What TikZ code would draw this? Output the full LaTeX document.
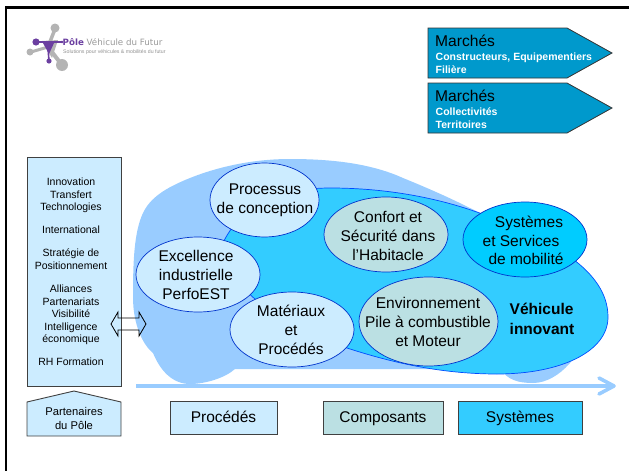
\documentclass[tikz,border=0pt]{standalone}
\usepackage{fontspec}
\usetikzlibrary{shapes.geometric}
\setmainfont{Liberation Sans}
\newfontfamily\logofont{DejaVu Sans}
\definecolor{carblue}{HTML}{99CCFF}
\definecolor{bigblue}{HTML}{33CCFF}
\definecolor{sysblue}{HTML}{00CCFF}
\definecolor{paleblue}{HTML}{CCECFF}
\definecolor{tealgrey}{HTML}{BBE0E3}
\definecolor{markblue}{HTML}{0099CC}
\definecolor{edgeblue}{HTML}{0033CC}
\definecolor{logopurple}{HTML}{6B3FA0}
\definecolor{logogrey}{HTML}{B4B4B4}
\tikzset{
  bubble/.style={ellipse,draw=edgeblue,line width=0.7pt,inner sep=0pt},
  bubbletext/.style={align=center,inner sep=0pt,font=\fontsize{15.5}{18.8}\selectfont},
  panel/.style={draw=black!75,line width=0.9pt},
  boxlabel/.style={rectangle,panel,minimum height=33pt,inner sep=0pt,text height=13pt,text depth=3pt,font=\fontsize{15.5}{18.8}\selectfont},
  markshape/.style={fill=markblue,draw=black!80,line width=0.8pt},
  marktitle/.style={anchor=west,inner sep=0pt,font=\fontsize{15.6}{18}\selectfont},
  marksub/.style={anchor=north west,align=left,inner sep=0pt,text=white,font=\fontsize{10.5}{13.5}\selectfont\bfseries}
}
\begin{document}
\begin{tikzpicture}[x=1pt,y=-1pt]
\useasboundingbox (0,0) rectangle (629,471);
% frame
\fill[black] (4.5,6) rectangle (7,471);
\fill[black] (4.5,6) rectangle (629,8.5);
% logo
\begin{scope}[line cap=round]
\draw[logogrey,line width=3.5pt] (48,47) -- (55,29);
\draw[logogrey,line width=4pt] (48,47) -- (62,65);
\draw[logogrey,line width=3pt] (48,47) -- (31,52);
\fill[logogrey] (55,28) circle (4.5);
\fill[logogrey] (62,65) circle (6);
\fill[logogrey] (30,52) circle (3.5);
\fill[logogrey] (42,41) -- (58,40) -- (52,58) -- cycle;
\draw[logopurple,line width=2pt] (36,42) -- (62,42);
\draw[logopurple,line width=1.6pt] (48,48) -- (49,61);
\fill[logopurple] (36,42) circle (3.6);
\fill[logopurple] (43,43) -- (54,43) -- (49,54) -- cycle;
\fill[logopurple] (49,61) circle (2.6);
\fill[logopurple] (62,42) circle (1.3);
\end{scope}
\node[anchor=west,inner sep=0pt,text=logogrey!85!black] (logoname) at (62.5,42.5) {\logofont\fontsize{8.7}{10}\selectfont\textcolor{logopurple}{\bfseries Pôle} Véhicule du Futur};
\node[anchor=west,inner sep=0pt,text=logogrey!80!black] (logotag) at (63,52.5) {\fontsize{5.2}{6}\selectfont Solutions pour véhicules \& mobilités du futur};
% markets
\draw[markshape] (428,28) -- (567,28) -- (612,53) -- (567,78) -- (428,78) -- cycle;
\node[marktitle] (m1) at (435,41) {Marchés};
\node[marksub] (m1s) at (435.5,52.5) {Constructeurs, Equipementiers\\Filière};
\draw[markshape] (428,83) -- (567,83) -- (612,108) -- (567,133) -- (428,133) -- cycle;
\node[marktitle] (m2) at (435,96) {Marchés};
\node[marksub] (m2s) at (435.5,107.5) {Collectivités\\Territoires};
% car
\fill[carblue] (133,297)
  .. controls (133,262) and (134,232) .. (143,213)
  .. controls (150,198) and (165,188) .. (190,178)
  .. controls (220,166) and (255,159) .. (290,159)
  .. controls (330,159) and (370,163) .. (403,178)
  .. controls (430,189) and (450,198) .. (470,208)
  .. controls (520,232) and (585,270) .. (585,330)
  .. controls (585,350) and (560,383) .. (533,383)
  .. controls (518,383) and (508,380) .. (500,369)
  -- (235,369)
  .. controls (225,378) and (205,384) .. (190,384)
  .. controls (172,384) and (160,370) .. (153,353)
  .. controls (143,345) and (133,325) .. (133,297) -- cycle;
% axis arrow
\draw[carblue,line width=3.6pt] (136,386) -- (613,386);
\draw[carblue,line width=3.6pt,line cap=round,line join=round] (599,378) -- (614,386) -- (599,394);
% vehicle blob
\fill[bigblue,draw=blue!70!cyan,line width=0.7pt] (222,245)
  .. controls (240,205) and (280,188) .. (330,188)
  .. controls (400,188) and (455,203) .. (490,217)
  .. controls (550,240) and (608,270) .. (608,317)
  .. controls (608,352) and (560,374) .. (497,374)
  .. controls (440,374) and (390,362) .. (347,348)
  .. controls (300,330) and (230,300) .. (222,245) -- cycle;
% bubbles
\node[bubble,fill=paleblue,minimum width=109pt,minimum height=74pt] (proc) at (264.5,200) {};
\node[bubble,fill=paleblue,minimum width=124pt,minimum height=75pt] (exc) at (198,274.5) {};
\node[bubble,fill=paleblue,minimum width=124pt,minimum height=75pt] (mat) at (292,329.5) {};
\node[bubble,fill=tealgrey,minimum width=124pt,minimum height=75pt] (conf) at (386,234.5) {};
\node[bubble,fill=tealgrey,minimum width=139pt,minimum height=89pt] (env) at (428.5,321.5) {};
\node[bubble,fill=sysblue,minimum width=124pt,minimum height=75pt] (sys) at (525,239.5) {};
\node[bubbletext] (proct) at (265,200.5) {Processus\\de conception};
\node[bubbletext] (exct) at (196,275) {Excellence\\industrielle\\PerfoEST};
\node[bubbletext] (matt) at (291,330) {Matériaux\\et\\Procédés};
\node[bubbletext] (conft) at (388,236) {Confort et\\Sécurité dans\\l’Habitacle};
\node[bubbletext] (envt) at (428,322) {Environnement\\Pile à combustible\\et Moteur};
\node[bubbletext] (syst) at (521,240.5) {\hspace*{16pt}Systèmes\\et Services\\\hspace*{10pt}de mobilité};
\node[align=left,inner sep=0pt,font=\fontsize{15.5}{19.6}\selectfont\bfseries] (veh) at (542,319) {Véhicule\\innovant};
% left panel
\node[rectangle,panel,fill=paleblue,minimum width=94pt,minimum height=229pt,inner sep=0pt,anchor=north west] (side) at (27,157) {};
\node[align=center,inner sep=0pt,font=\fontsize{10.5}{12.6}\selectfont] (sidet) at (71,272) {Innovation\\Transfert\\Technologies\\[10.4pt]International\\[10.4pt]Stratégie de\\Positionnement\\[10.4pt]Alliances\\Partenariats\\Visibilité\\Intelligence\\économique\\[10.4pt]RH Formation};
% double arrow
\draw[black,line width=0.8pt,line join=miter] (111,324) -- (118,312) -- (118,318) -- (139,318) -- (139,312) -- (146,324) -- (139,336) -- (139,330) -- (118,330) -- (118,336) -- cycle;
% partners
\draw[panel,fill=paleblue] (27,402) -- (74,391) -- (121,402) -- (121,436) -- (27,436) -- cycle;
\node[align=center,inner sep=0pt,font=\fontsize{11.2}{14}\selectfont] (part) at (74,418) {Partenaires\\du Pôle};
% bottom boxes
\node[boxlabel,fill=paleblue,minimum width=107pt] (bproc) at (223.5,417.5) {Procédés};
\node[boxlabel,fill=tealgrey,minimum width=120pt] (bcomp) at (383,417.5) {Composants};
\node[boxlabel,fill=bigblue,minimum width=124pt] (bsys) at (520,417.5) {Systèmes};
\end{tikzpicture}
\end{document}
